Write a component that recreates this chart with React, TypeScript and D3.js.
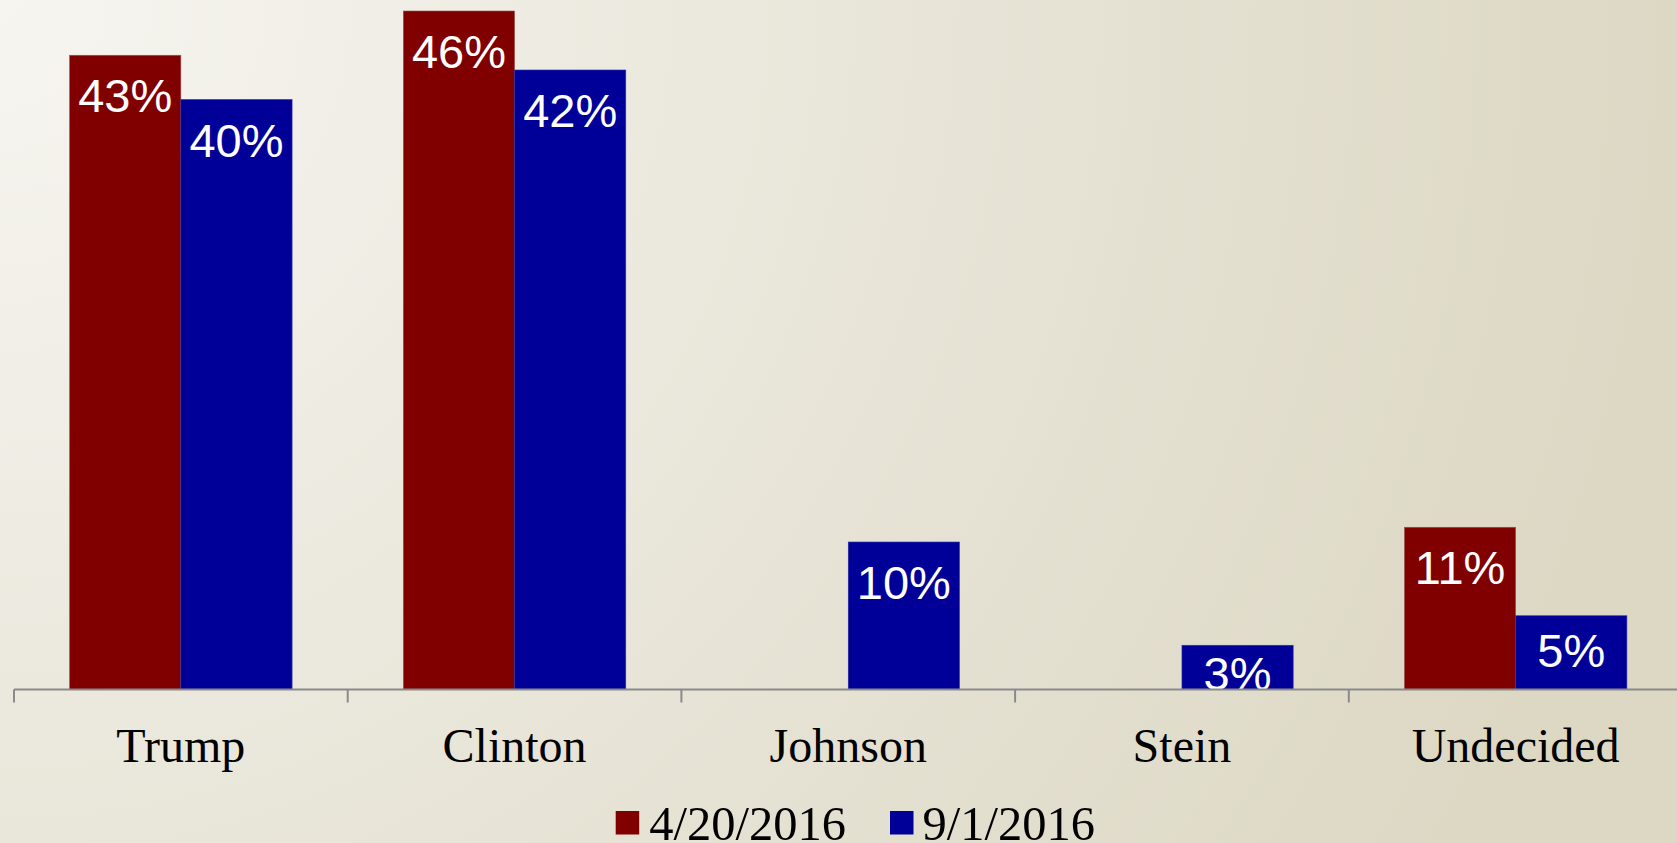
import React from "react";
import * as d3 from "d3";

const categories = ["Trump", "Clinton", "Johnson", "Stein", "Undecided"];
const seriesNames = ["4/20/2016", "9/1/2016"];
const seriesApril: (number | null)[] = [43, 46, null, null, 11];
const seriesSept: (number | null)[] = [40, 42, 10, 3, 5];
const seriesColors = ["#800000", "#000099"];

const W = 1677;
const H = 843;
const axisY = 689.5;
const axisX0 = 14;
const bandStep = 333.7;

export default function App() {
  React.useEffect(() => {
    document.body.style.margin = "0";
  }, []);

  const x = d3
    .scaleBand<string>()
    .domain(categories)
    .range([axisX0, axisX0 + bandStep * categories.length])
    .padding(0);
  const bw = x.bandwidth();
  const inner = d3
    .scaleBand<string>()
    .domain(seriesNames)
    .range([bw / 6, (bw * 5) / 6])
    .padding(0);
  const y = d3.scaleLinear().domain([0, 50]).range([axisY, axisY - 50 * 14.75]);

  const series = [seriesApril, seriesSept];
  const ticks = d3.range(categories.length + 1).map((i) => axisX0 + i * bandStep);

  const labelOffset = (h: number) => Math.max(45, Math.min(57, 45 + (h - 44) * 0.2));

  const legendItems = [
    { sq: 615.7, tx: 649.3 },
    { sq: 890, tx: 922.5 },
  ];

  return (
    <svg width={W} height={H} style={{ display: "block", position: "absolute", left: 0, top: 0 }}>
      <defs>
        <radialGradient id="bg" cx="0" cy="0" r={W} gradientUnits="userSpaceOnUse">
          <stop offset="0" stopColor="#f6f5f0" />
          <stop offset="0.5" stopColor="#e9e6da" />
          <stop offset="1" stopColor="#ddd8c4" />
        </radialGradient>
        <clipPath id="plot">
          <rect x={0} y={0} width={W} height={axisY} />
        </clipPath>
      </defs>
      <rect x={0} y={0} width={W} height={H} fill="url(#bg)" />
      <g>
        {series.map((vals, si) =>
          vals.map((v, ci) => {
            if (v == null) return null;
            const bx = (x(categories[ci]) as number) + (inner(seriesNames[si]) as number);
            const top = y(v);
            return (
              <rect
                key={`b-${si}-${ci}`}
                x={bx}
                y={top}
                width={inner.bandwidth()}
                height={axisY - top}
                fill={seriesColors[si]}
                stroke={si === 0 ? "#a05050" : "#3030a8"}
                strokeWidth={0.6}
              />
            );
          })
        )}
      </g>
      <g clipPath="url(#plot)">
        {series.map((vals, si) =>
          vals.map((v, ci) => {
            if (v == null) return null;
            const bx = (x(categories[ci]) as number) + (inner(seriesNames[si]) as number);
            const top = y(v);
            const h = axisY - top;
            return (
              <text
                key={`l-${si}-${ci}`}
                x={bx + inner.bandwidth() / 2}
                y={top + labelOffset(h)}
                textAnchor="middle"
                fill="#ffffff"
                fontFamily="'Liberation Sans', Arial, sans-serif"
                fontSize={47}
              >
                {`${v}%`}
              </text>
            );
          })
        )}
      </g>
      <line x1={axisX0} x2={W} y1={axisY} y2={axisY} stroke="#8a8a8a" strokeWidth={2} />
      {ticks.map((t, i) => (
        <line key={`t-${i}`} x1={t} x2={t} y1={axisY} y2={axisY + 13} stroke="#8a8a8a" strokeWidth={2} />
      ))}
      {categories.map((c) => (
        <text
          key={`c-${c}`}
          x={(x(c) as number) + bw / 2}
          y={761.7}
          textAnchor="middle"
          fill="#000000"
          fontFamily="'Liberation Serif', 'Times New Roman', serif"
          fontSize={48}
        >
          {c}
        </text>
      ))}
      {seriesNames.map((s, i) => (
        <g key={`lg-${s}`}>
          <rect x={legendItems[i].sq} y={811} width={23.5} height={23.5} fill={seriesColors[i]} />
          <text
            x={legendItems[i].tx}
            y={840}
            fill="#000000"
            fontFamily="'Liberation Serif', 'Times New Roman', serif"
            fontSize={48.5}
          >
            {s}
          </text>
        </g>
      ))}
    </svg>
  );
}
